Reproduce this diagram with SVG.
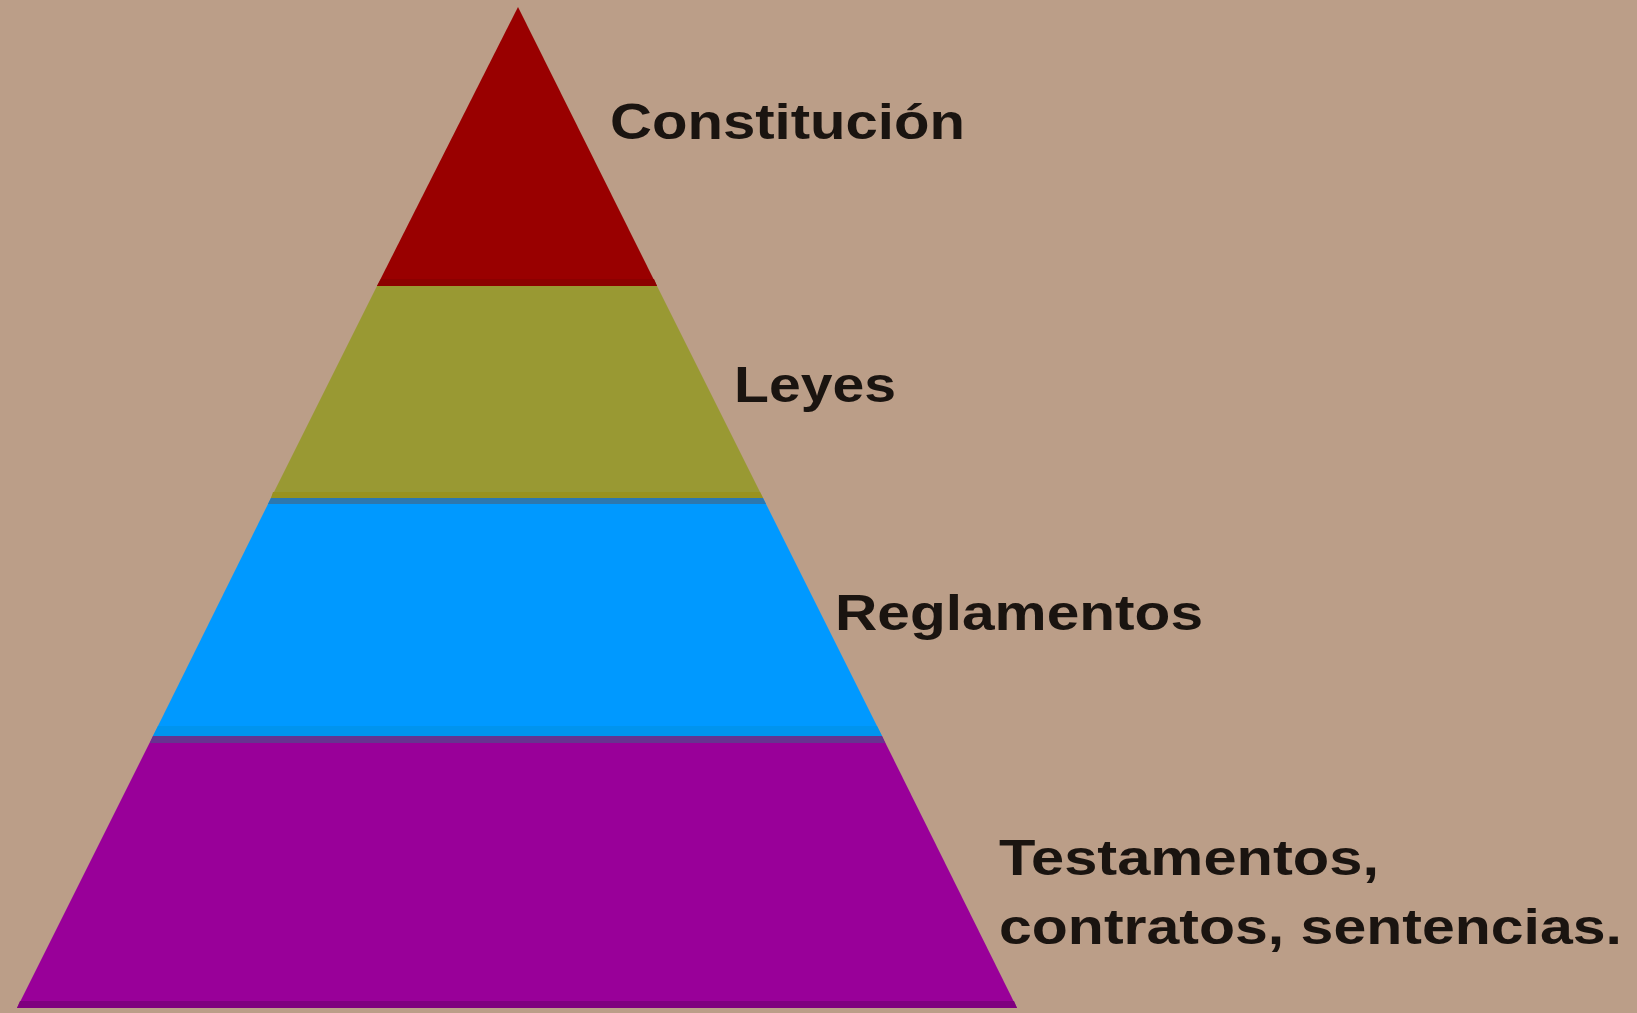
<svg xmlns="http://www.w3.org/2000/svg" width="1637" height="1013" viewBox="0 0 1637 1013">
<style>
.lbl{font-family:"Liberation Sans",Arial,sans-serif;font-size:50px;font-weight:bold;fill:#1a1410}
</style>
<rect x="0" y="0" width="1637" height="1013" fill="#BB9E88"/>
<g id="constitucion">
<polygon points="518,7 657,286 377,286" fill="#990000"/>
<polygon points="381,279 654,279 657,286 377,286" fill="#8C0000"/>
</g>
<g id="leyes">
<polygon points="377,286 657,286 763,498 271,498" fill="#999933"/>
<polygon points="273,492 760,492 763,498 271,498" fill="#99921F"/>
</g>
<g id="reglamentos">
<polygon points="271,498 763,498 882,736 153,736" fill="#0099FF"/>
<polygon points="271,498 763,498 766,504 268,504" fill="#2C78B0"/>
<polygon points="158,726 877,726 882,736 153,736" fill="#0094EE"/>
</g>
<g id="testamentos">
<polygon points="153,736 882,736 1017,1008 17,1008" fill="#990099"/>
<polygon points="153,736 882,736 885,743 150,743" fill="#663390"/>
<polygon points="20,1001 1014,1001 1017,1008 17,1008" fill="#7F007F"/>
</g>
<g id="labels">
<text class="lbl" x="610" y="139" textLength="355" lengthAdjust="spacingAndGlyphs">Constitución</text>
<text class="lbl" x="734" y="402" textLength="162" lengthAdjust="spacingAndGlyphs">Leyes</text>
<text class="lbl" x="835" y="630" textLength="368" lengthAdjust="spacingAndGlyphs">Reglamentos</text>
<text class="lbl" x="999" y="875" textLength="380" lengthAdjust="spacingAndGlyphs">Testamentos,</text>
<text class="lbl" x="999" y="944" textLength="623" lengthAdjust="spacingAndGlyphs">contratos, sentencias.</text>
</g>
<g id="connectors"/>
</svg>
